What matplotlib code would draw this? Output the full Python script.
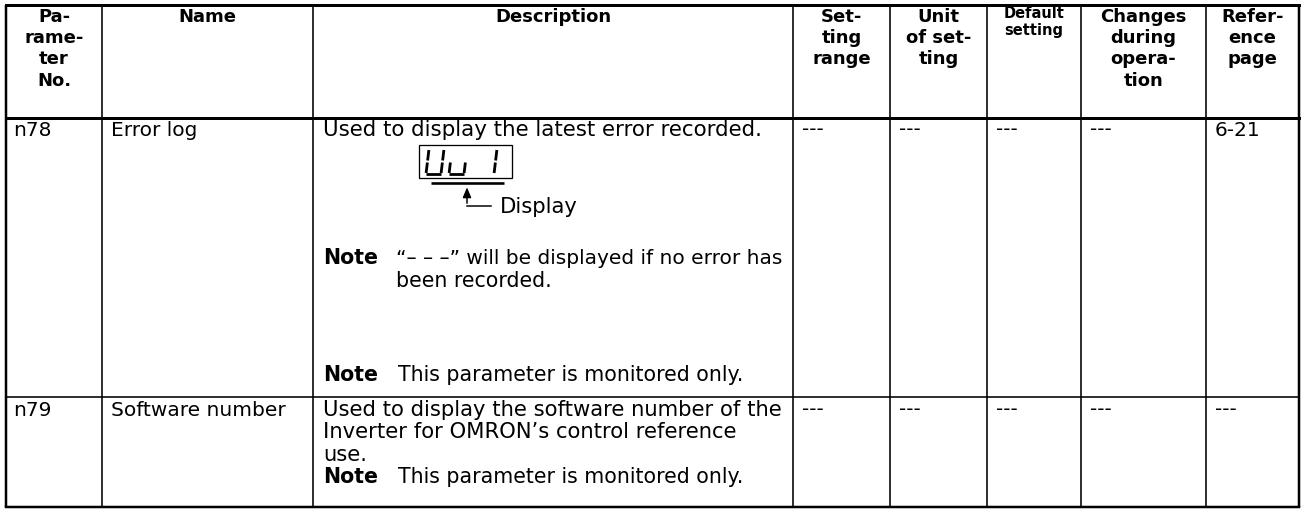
import matplotlib
matplotlib.use("Agg")
import matplotlib.pyplot as plt
from matplotlib.patches import Rectangle

# ---------------- data ----------------
header_lines = [["Pa-", "rame-", "ter", "No."],
                ["Name"],
                ["Description"],
                ["Set-", "ting", "range"],
                ["Unit", "of set-", "ting"],
                ["Default", "setting"],
                ["Changes", "during", "opera-", "tion"],
                ["Refer-", "ence", "page"]]
param_no = ["n78", "n79"]
names = ["Error log", "Software number"]
setting_range = ["---", "---"]
unit_of_setting = ["---", "---"]
default_setting = ["---", "---"]
changes_during_op = ["---", "---"]
reference_page = ["6-21", "---"]
desc1_intro = "Used to display the latest error recorded."
display_label = "Display"
display_digits = ["U", "u", " ", "1"]
note1_text = ["\u201c\u2013 \u2013 \u2013\u201d will be displayed if no error has", "been recorded."]
note2_text = "This parameter is monitored only."
desc2_lines = ["Used to display the software number of the",
               "Inverter for OMRON\u2019s control reference",
               "use."]

# ---------------- layout ----------------
W, H = 1302, 512
fig = plt.figure(figsize=(W / 100, H / 100), dpi=100)
ax = fig.add_axes([0, 0, 1, 1])
ax.set_xlim(0, W)
ax.set_ylim(H, 0)
ax.axis("off")

FONT = "DejaVu Sans"
FS = 14.5      # cell text
DFS = 15.2     # description text
NFS = 14.8     # note text
HFS = 13.0     # header text

col_x = [6, 102, 313, 793, 890, 987, 1081, 1206, 1299]
row_y = [5, 118, 397, 507]

def px(w):
    return w * 0.72

# grid
for i, x in enumerate(col_x):
    lw = 2.5 if i in (0, len(col_x) - 1) else 1.6
    ax.plot([x, x], [row_y[0], row_y[-1]], color="black", lw=px(lw), solid_capstyle="butt")
ax.plot([col_x[0], col_x[-1]], [row_y[0], row_y[0]], color="black", lw=px(3), solid_capstyle="projecting")
ax.plot([col_x[0], col_x[-1]], [row_y[1], row_y[1]], color="black", lw=px(3), solid_capstyle="projecting")
ax.plot([col_x[0], col_x[-1]], [row_y[2], row_y[2]], color="black", lw=px(1.6))
ax.plot([col_x[0], col_x[-1]], [row_y[3], row_y[3]], color="black", lw=px(2.5), solid_capstyle="projecting")

def txt(x, y, s, ha="left", size=FS, weight="normal"):
    ax.text(x, y, s, ha=ha, va="center", fontsize=size, family=FONT, weight=weight, color="black")

# headers
for j, lines in enumerate(header_lines):
    cx = (col_x[j] + col_x[j + 1]) / 2
    if j == 5:
        y0, dy, fs = 13, 17, 10.5
    else:
        y0, dy, fs = 16.5, 21.5, HFS
    for k, s in enumerate(lines):
        txt(cx, y0 + k * dy, s, ha="center", size=fs, weight="bold")

# simple columns
simple_cols = [(0, param_no), (1, names), (3, setting_range), (4, unit_of_setting),
               (5, default_setting), (6, changes_during_op), (7, reference_page)]
row_text_y = [130, 410]
for r in range(2):
    for j, vals in simple_cols:
        off = 7 if j == 0 else 9
        txt(col_x[j] + off, row_text_y[r], vals[r])

# description row 1
dx = col_x[2] + 10
txt(dx, 130, desc1_intro, size=15.4)

# seven segment display
bx0, bx1, by0, by1 = 419, 512, 145, 178
ax.add_patch(Rectangle((bx0, by0), bx1 - bx0, by1 - by0, fill=False, ec="black", lw=px(1.3)))
ax.plot([431, 504], [182.5, 182.5], color="black", lw=px(2.6), solid_capstyle="butt")

seg_map = {"U": "bcdef", "u": "cde", "1": "bc", " ": ""}
def draw_digit(x0, ch, w=15, top=149, bot=174, slant=0.12):
    mid = (top + bot) / 2
    def sx(x, y):
        return x + (bot - y) * slant
    pts = {
        "a": [(x0, top), (x0 + w, top)],
        "b": [(x0 + w, top + 1), (x0 + w, mid - 1)],
        "c": [(x0 + w, mid + 1), (x0 + w, bot - 1)],
        "d": [(x0, bot), (x0 + w, bot)],
        "e": [(x0, mid + 1), (x0, bot - 1)],
        "f": [(x0, top + 1), (x0, mid - 1)],
        "g": [(x0, mid), (x0 + w, mid)],
    }
    for s in seg_map[ch]:
        (xa, ya), (xb, yb) = pts[s]
        ax.plot([sx(xa, ya), sx(xb, yb)], [ya, yb], color="black", lw=px(2.8), solid_capstyle="butt")

digit_x = [426, 449, 472, 479]
for xd, ch in zip(digit_x, display_digits):
    draw_digit(xd, ch)

# arrow
ax.annotate("", xy=(467, 184.5), xytext=(467, 206),
            arrowprops=dict(arrowstyle="-|>,head_length=0.6,head_width=0.25", color="black", lw=px(1.5)))
ax.plot([467, 491], [206, 206], color="black", lw=px(1.5))
txt(500, 207, display_label, size=DFS)

# notes
nx = col_x[2] + 10
ntx = 396
txt(nx, 258, "Note", weight="bold", size=NFS)
txt(ntx, 258, note1_text[0], size=14.5)
txt(ntx, 281, note1_text[1], size=NFS)
txt(nx, 375, "Note", weight="bold", size=NFS)
txt(ntx + 2, 375, note2_text, size=NFS)

# description row 2
for k, s in enumerate(desc2_lines):
    txt(dx, 410 + k * 22.5, s, size=DFS)
txt(nx, 477, "Note", weight="bold", size=NFS)
txt(ntx + 2, 477, note2_text, size=NFS)

fig.savefig("out.png", dpi=100)
